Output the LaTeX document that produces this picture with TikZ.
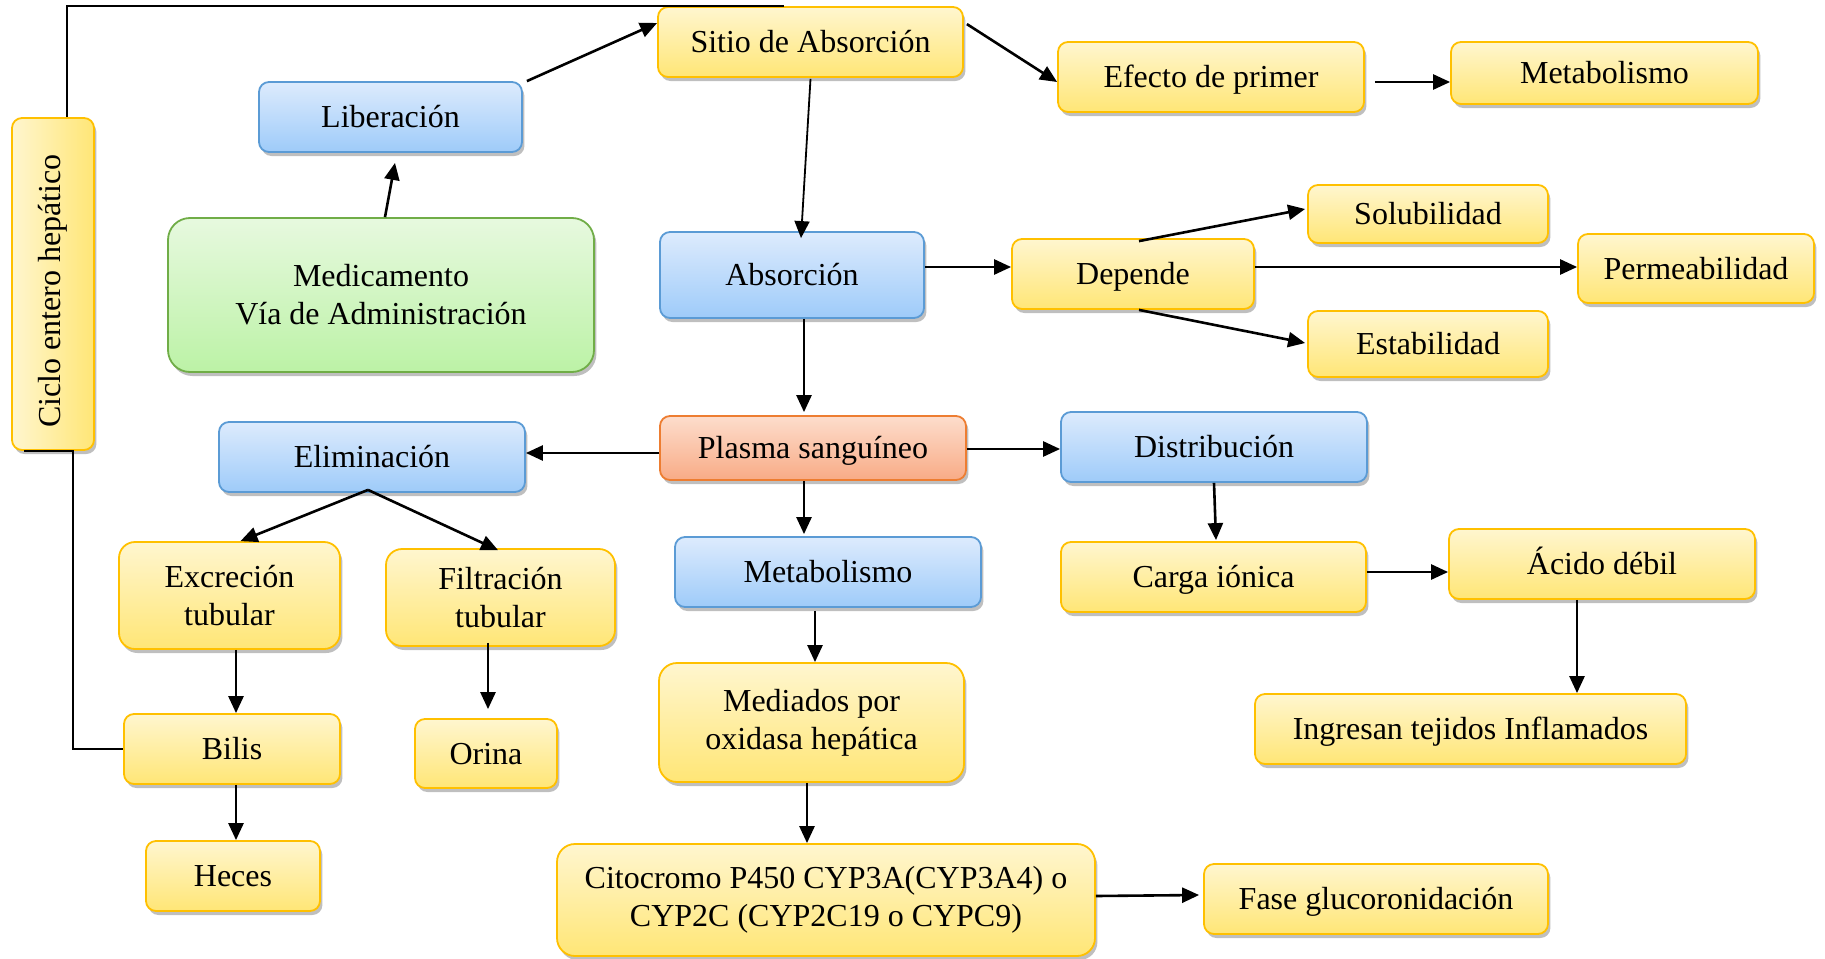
\documentclass[tikz,border=0pt]{standalone}
\usepackage{fontspec}
\setmainfont{Liberation Serif}
\usepackage{graphicx}
\usetikzlibrary{shadows,arrows.meta,calc}
\definecolor{ytop}{HTML}{FFF6CF}
\definecolor{ybot}{HTML}{FFE676}
\definecolor{ybord}{HTML}{FFC000}
\definecolor{btop}{HTML}{DDEBFD}
\definecolor{bbot}{HTML}{9ECBF9}
\definecolor{bbord}{HTML}{5B9BD5}
\definecolor{gtop}{HTML}{E7F9DF}
\definecolor{gbot}{HTML}{BCF2A6}
\definecolor{gbord}{HTML}{70AD47}
\definecolor{otop}{HTML}{FDDDCC}
\definecolor{obot}{HTML}{F8AB86}
\definecolor{obord}{HTML}{ED7D31}
\tikzset{
  basebox/.style={rectangle, rounded corners=5pt, line width=0.9pt, align=center,
    font=\fontsize{16}{19}\selectfont, inner sep=2pt,
    drop shadow={shadow xshift=1.2pt, shadow yshift=-2pt, opacity=0.25, fill=black}},
  oneline/.style={text height=14.3pt, text depth=3.5pt},
  ybox/.style={basebox, draw=ybord, top color=ytop, bottom color=ybot},
  bbox/.style={basebox, draw=bbord, top color=btop, bottom color=bbot},
  gbox/.style={basebox, draw=gbord, top color=gtop, bottom color=gbot},
  obox/.style={basebox, draw=obord, top color=otop, bottom color=obot},
  conn/.style={line width=1.3pt, -{Triangle[length=8.5pt,width=7.5pt]}},
  thinconn/.style={line width=0.9pt, -{Triangle[length=8.5pt,width=7.5pt]}},
  plainline/.style={line width=1.2pt},
}
\begin{document}
\begin{tikzpicture}[x=0.5pt,y=-0.5pt]
\useasboundingbox (0,0) rectangle (1825,958);

% nodes
\node[basebox, draw=ybord, left color=ytop, right color=ybot, minimum width=41pt, minimum height=166pt] (ciclo) at (53,284) {\rotatebox{90}{\kern-7pt Ciclo entero hepático}};
\node[bbox, oneline, minimum width=131.5pt, minimum height=35pt] (lib) at (390.5,117) {Liberación};
\node[gbox, rounded corners=11pt, minimum width=213pt, minimum height=77pt] (med) at (381,295) {Medicamento\\Vía de Administración};
\node[ybox, oneline, minimum width=152.5pt, minimum height=35pt] (sitio) at (810.5,42) {Sitio de Absorción};
\node[ybox, oneline, minimum width=153pt, minimum height=35pt] (efecto) at (1211,77) {Efecto de primer};
\node[ybox, oneline, minimum width=153.5pt, minimum height=31pt] (met1) at (1604.5,73) {Metabolismo};
\node[bbox, oneline, minimum width=132pt, minimum height=43pt] (abs) at (792,275) {Absorción};
\node[ybox, oneline, minimum width=121pt, minimum height=35pt] (dep) at (1133,274) {Depende};
\node[ybox, oneline, minimum width=120pt, minimum height=29pt] (sol) at (1428,214) {Solubilidad};
\node[ybox, oneline, minimum width=118pt, minimum height=34.5pt] (perm) at (1696,268.5) {Permeabilidad};
\node[ybox, oneline, minimum width=120pt, minimum height=33pt] (est) at (1428,344) {Estabilidad};
\node[obox, oneline, minimum width=153pt, minimum height=32pt] (plasma) at (813,448) {Plasma sanguíneo};
\node[bbox, oneline, minimum width=153pt, minimum height=35pt] (elim) at (372,457) {Eliminación};
\node[bbox, oneline, minimum width=153pt, minimum height=35pt] (dist) at (1214,447) {Distribución};
\node[ybox, rounded corners=8pt, minimum width=110.5pt, minimum height=53.5pt] (exc) at (229.5,595.5) {Excreción\\tubular};
\node[ybox, rounded corners=8pt, minimum width=114.5pt, minimum height=48.5pt] (fil) at (500.5,597.5) {Filtración\\tubular};
\node[bbox, oneline, minimum width=153pt, minimum height=35pt] (met2) at (828,572) {Metabolismo};
\node[ybox, oneline, minimum width=152.5pt, minimum height=35pt] (carga) at (1213.5,577) {Carga iónica};
\node[ybox, oneline, minimum width=153pt, minimum height=35pt] (acido) at (1602,564) {Ácido débil};
\node[ybox, oneline, minimum width=108pt, minimum height=35pt] (bilis) at (232,749) {Bilis};
\node[ybox, oneline, minimum width=71pt, minimum height=34.5pt] (orina) at (486,753.5) {Orina};
\node[ybox, rounded corners=9pt, minimum width=152.5pt, minimum height=59.5pt] (med2) at (811.5,722.5) {Mediados por\\oxidasa hepática};
\node[ybox, oneline, minimum width=215.5pt, minimum height=35pt] (ingr) at (1470.5,729) {Ingresan tejidos Inflamados};
\node[ybox, oneline, minimum width=87pt, minimum height=35pt] (heces) at (233,876) {Heces};
\node[ybox, rounded corners=9pt, minimum width=269pt, minimum height=56pt] (cito) at (826,900) {Citocromo P450 CYP3A(CYP3A4) o\\CYP2C (CYP2C19 o CYPC9)};
\node[ybox, oneline, minimum width=172pt, minimum height=35pt] (fase) at (1376,899) {Fase glucoronidación};

% free end of the top line
\coordinate (topend) at ($(sitio.north west)+(127,0)$);

% connectors
\draw[conn] ($(med.north)+(4,0)$) -- ($(lib.south)+(4.5,10)$);
\draw[conn] ($(lib.north east)+(4,0)$) -- ($(sitio.west)+(0,-19)$);
\draw[plainline] ($(ciclo.north)+(14,0)$) |- (topend);
\draw[plainline] ($(ciclo.south)+(-29,0)$) -- ($(ciclo.south)+(20,0)$) |- (bilis.west);
\draw[conn] ($(sitio.north east)+(3,18)$) -- ($(efecto.west)+(0,5)$);
\draw[conn] ($(efecto.east)+(10,5)$) -- ($(met1.west)+(0,9)$);
\draw[thinconn] ($(sitio.south)+(0,1)$) -- ($(abs.north)+(9,7)$);
\draw[conn] ($(abs.east)+(0,-8)$) -- ($(dep.west)+(0,-7)$);
\draw[conn] ($(abs.south)+(12,0)$) -- ($(plasma.north)+(-9,-3)$);
\draw[conn] ($(dep.north)+(6,3)$) -- ($(sol.west)+(-2,-5)$);
\draw[conn] ($(dep.east)+(0,-7)$) -- ($(perm.west)+(0,-1.5)$);
\draw[conn] ($(dep.south)+(6,0)$) -- ($(est.west)+(-2,-1)$);
\draw[conn] ($(plasma.west)+(0,5)$) -- ($(elim.east)+(0,-4)$);
\draw[conn] ($(plasma.east)+(0,1)$) -- ($(dist.west)+(0,2)$);
\draw[conn] ($(plasma.south)+(-9,0)$) -- ($(met2.north)+(-24,-2)$);
\draw[conn] (dist.south) -- ($(carga.north)+(2.5,-1)$);
\draw[conn] ($(carga.east)+(0,-5)$) -- ($(acido.west)+(0,8)$);
\draw[conn] ($(acido.south)+(-25,0)$) -- ($(ingr.north)+(106.5,0)$);
\draw[conn] ($(elim.south)+(-4,-3)$) -- ($(exc.north)+(11,0)$);
\draw[conn] ($(elim.south)+(-4,-3)$) -- ($(fil.north)+(-2.5,2)$);
\draw[conn] ($(exc.south)+(6.5,0)$) -- ($(bilis.north)+(4,0)$);
\draw[conn] ($(bilis.south)+(4,0)$) -- ($(heces.north)+(3,0)$);
\draw[conn] ($(fil.south)+(-12.5,-4)$) -- ($(orina.north)+(2,-9)$);
\draw[conn] ($(met2.south)+(-13,3)$) -- ($(med2.north)+(3.5,0)$);
\draw[conn] ($(med2.south)+(-4.5,0)$) -- ($(cito.north)+(-19,0)$);
\draw[conn] ($(cito.east)+(0,-4)$) -- ($(fase.west)+(-4,-4)$);
\end{tikzpicture}
\end{document}
